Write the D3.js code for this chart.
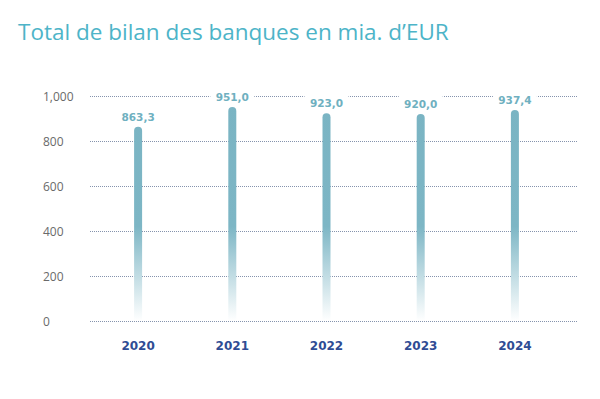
<!DOCTYPE html>
<html><head><meta charset="utf-8">
<script src="https://cdn.jsdelivr.net/npm/d3@7"></script>
<style>body{margin:0;background:#fff}svg{display:block}</style>
</head><body>
<script>
const years = ["2020","2021","2022","2023","2024"];
const values = [863.3, 951.0, 923.0, 920.0, 937.4];
const valueLabels = ["863,3","951,0","923,0","920,0","937,4"];
const yTicks = [0, 200, 400, 600, 800, 1000];
const yTickLabels = ["0","200","400","600","800","1,000"];
const title = "Total de bilan des banques en mia. d\u2019EUR";

const W = 600, H = 399;
const svg = d3.select("body").append("svg").attr("width", W).attr("height", H);

svg.append("text").attr("x", 18).attr("y", 40)
  .attr("font-family", "Open Sans, sans-serif").attr("font-size", 22.5)
  .attr("fill", "#4db4c8").text(title);

const y = d3.scaleLinear().domain([0, 1000]).range([321, 96]);
const x = d3.scaleBand().domain(years).range([91, 562]).paddingInner(0).paddingOuter(0);

const defs = svg.append("defs");
const grad = defs.append("linearGradient").attr("id", "g").attr("gradientUnits", "userSpaceOnUse")
  .attr("x1", 0).attr("x2", 0).attr("y1", y(0)).attr("y2", y(1000));
grad.append("stop").attr("offset", 0).attr("stop-color", "#ffffff");
grad.append("stop").attr("offset", 0.42).attr("stop-color", "#7db6c5");
grad.append("stop").attr("offset", 1).attr("stop-color", "#7ab4c3");

// gridlines
svg.append("g").selectAll("line").data(yTicks).join("line")
  .attr("x1", 90).attr("x2", 578)
  .attr("y1", d => y(d) + 0.5).attr("y2", d => y(d) + 0.5)
  .attr("stroke", "#8593ad").attr("stroke-width", 1).attr("stroke-dasharray", "1,1");

// y labels
svg.append("g").selectAll("text").data(yTicks).join("text")
  .attr("x", 43).attr("y", d => y(d) + 4.5)
  .attr("font-family", "Open Sans, sans-serif").attr("font-size", 12)
  .attr("fill", "#6a6a6a").text((d, i) => yTickLabels[i]);

const bw = 8;
// bars
svg.append("g").selectAll("path").data(values).join("path")
  .attr("d", (d, i) => {
    const cx = x(years[i]) + x.bandwidth() / 2;
    const top = y(d), bot = y(0), r = bw / 2;
    return `M${cx - r},${bot} L${cx - r},${top + r} A${r},${r} 0 0 1 ${cx + r},${top + r} L${cx + r},${bot} Z`;
  })
  .attr("fill", "url(#g)");

// value labels with white background
const lg = svg.append("g");
values.forEach((d, i) => {
  const cx = x(years[i]) + x.bandwidth() / 2;
  lg.append("rect").attr("x", cx - 22).attr("y", y(d) - 24).attr("width", 44).attr("height", 20).attr("fill", "#fff");
  lg.append("text").attr("x", cx).attr("y", y(d) - 6).attr("text-anchor", "middle")
    .attr("font-family", "DejaVu Sans, sans-serif").attr("font-weight", "bold").attr("font-size", 10.5)
    .attr("fill", "#6fb0c0").text(valueLabels[i]);
});

// year labels
svg.append("g").selectAll("text").data(years).join("text")
  .attr("x", d => x(d) + x.bandwidth() / 2).attr("y", 350).attr("text-anchor", "middle")
  .attr("font-family", "DejaVu Sans, sans-serif").attr("font-weight", "bold").attr("font-size", 12)
  .attr("fill", "#2f4c94").text(d => d);
</script>
</body></html>
